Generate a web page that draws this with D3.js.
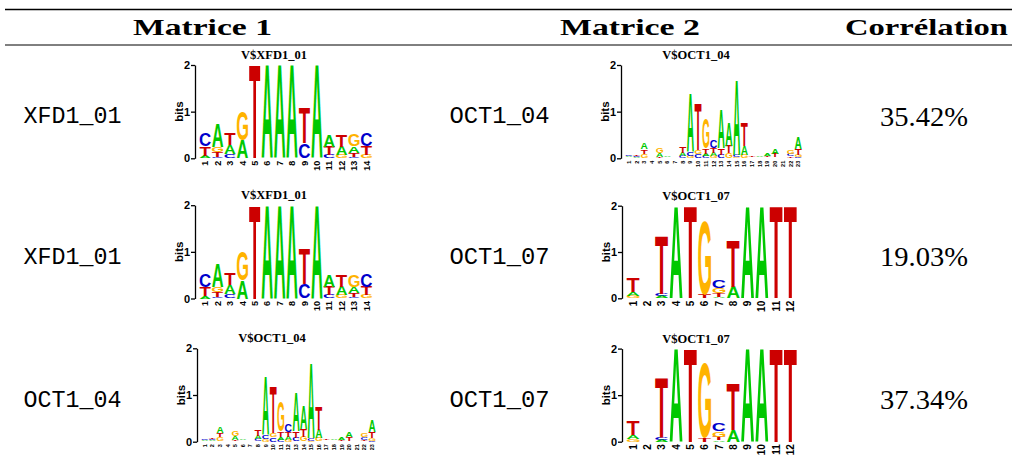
<!DOCTYPE html>
<html>
<head>
<meta charset="utf-8">
<script src="https://cdn.jsdelivr.net/npm/d3@7"></script>
<style>
  body { margin: 0; background: #fff; }
  svg { display: block; }
</style>
</head>
<body>
<script>
// ---- data ----
var headers = ["Matrice 1", "Matrice 2", "Corrélation"];
var rowLabels1 = ["XFD1_01", "XFD1_01", "OCT1_04"];
var rowLabels2 = ["OCT1_04", "OCT1_07", "OCT1_07"];
var correlations = ["35.42%", "19.03%", "37.34%"];
var bases = ["A", "C", "G", "T"];
var bitTicks = [0, 1, 2];

// information content per position, columns are [A, C, G, T] in bits
var xfd1_01 = [
  [0.05, 0.29, 0.00, 0.20],
  [0.50, 0.03, 0.11, 0.10],
  [0.19, 0.09, 0.01, 0.25],
  [0.39, 0.00, 0.61, 0.00],
  [0.00, 0.00, 0.00, 2.00],
  [2.00, 0.00, 0.00, 0.00],
  [2.00, 0.00, 0.00, 0.00],
  [2.00, 0.00, 0.00, 0.00],
  [0.00, 0.32, 0.00, 0.75],
  [2.00, 0.00, 0.00, 0.00],
  [0.25, 0.07, 0.00, 0.18],
  [0.18, 0.00, 0.07, 0.25],
  [0.14, 0.03, 0.25, 0.08],
  [0.00, 0.29, 0.07, 0.18]
];
var oct1_04 = [
  [0.02, 0.02, 0.01, 0.01],
  [0.02, 0.02, 0.01, 0.03],
  [0.14, 0.01, 0.09, 0.09],
  [0.01, 0.01, 0.01, 0.01],
  [0.08, 0.01, 0.10, 0.02],
  [0.02, 0.01, 0.01, 0.01],
  [0.01, 0.01, 0.01, 0.01],
  [0.07, 0.04, 0.01, 0.14],
  [1.25, 0.09, 0.05, 0.00],
  [0.00, 0.09, 0.09, 0.99],
  [0.05, 0.04, 0.64, 0.12],
  [0.07, 0.18, 0.04, 0.10],
  [0.84, 0.07, 0.01, 0.14],
  [0.50, 0.01, 0.10, 0.16],
  [1.62, 0.05, 0.02, 0.00],
  [0.18, 0.01, 0.07, 0.49],
  [0.01, 0.01, 0.01, 0.03],
  [0.02, 0.01, 0.01, 0.01],
  [0.06, 0.01, 0.01, 0.02],
  [0.10, 0.01, 0.01, 0.08],
  [0.01, 0.01, 0.01, 0.01],
  [0.01, 0.05, 0.08, 0.03],
  [0.25, 0.02, 0.05, 0.13]
];
var oct1_07 = [
  [0.09, 0.00, 0.05, 0.31],
  [0.01, 0.01, 0.01, 0.01],
  [0.04, 0.06, 0.00, 1.27],
  [2.00, 0.00, 0.00, 0.00],
  [0.00, 0.00, 0.00, 2.00],
  [0.00, 0.00, 1.60, 0.07],
  [0.03, 0.16, 0.11, 0.08],
  [0.25, 0.00, 0.00, 1.00],
  [2.00, 0.00, 0.00, 0.00],
  [2.00, 0.00, 0.00, 0.00],
  [0.00, 0.00, 0.00, 2.00],
  [0.00, 0.00, 0.00, 2.00]
];

// ---- layout ----
var width = 1012, height = 466;
var baseColor = { A: "#00c800", C: "#0000cc", G: "#ffb300", T: "#cc0000" };
var serif = "Liberation Serif";
var sans = "Liberation Sans";
var mono = "Liberation Mono";

var svg = d3.select("body").append("svg")
  .attr("width", width)
  .attr("height", height);

// table rules
svg.append("line").attr("x1", 5).attr("x2", width).attr("y1", 9.5).attr("y2", 9.5)
  .attr("stroke", "#000").attr("stroke-width", 1.6);
svg.append("line").attr("x1", 5).attr("x2", width).attr("y1", 45).attr("y2", 45)
  .attr("stroke", "#000").attr("stroke-width", 1);

// header
var headerPos = [[133, 139], [560, 140], [845, 163]];
svg.selectAll("text.header")
  .data(headers)
  .join("text")
  .attr("class", "header")
  .attr("x", function (d, i) { return headerPos[i][0]; })
  .attr("y", 35)
  .attr("textLength", function (d, i) { return headerPos[i][1]; })
  .attr("lengthAdjust", "spacingAndGlyphs")
  .attr("font-family", serif)
  .attr("font-weight", "bold")
  .attr("font-size", 22.5)
  .text(function (d) { return d; });

// row text
var labelBase = [123.3, 264, 406.6];
var corrBase = [125.5, 266.2, 408.8];

function rowText(labels, x, w) {
  svg.append("g").selectAll("text")
    .data(labels)
    .join("text")
    .attr("x", x)
    .attr("y", function (d, i) { return labelBase[i]; })
    .attr("textLength", w)
    .attr("lengthAdjust", "spacingAndGlyphs")
    .attr("font-family", mono)
    .attr("font-size", 24)
    .text(function (d) { return d; });
}
rowText(rowLabels1, 23.5, 98);
rowText(rowLabels2, 449.5, 100);

svg.append("g").selectAll("text")
  .data(correlations)
  .join("text")
  .attr("x", 880)
  .attr("y", function (d, i) { return corrBase[i]; })
  .attr("textLength", 88)
  .attr("lengthAdjust", "spacingAndGlyphs")
  .attr("font-family", serif)
  .attr("font-size", 28)
  .text(function (d) { return d; });

// glyph ink boxes, used to stretch letters into their stack cells
var ctx = document.createElement("canvas").getContext("2d");
ctx.font = "bold 100px 'Liberation Sans'";
var ink = {};
bases.forEach(function (b) {
  var m = ctx.measureText(b);
  ink[b] = { l: m.actualBoundingBoxLeft, r: m.actualBoundingBoxRight,
             a: m.actualBoundingBoxAscent, d: m.actualBoundingBoxDescent };
});

// one sequence logo
function drawLogo(p) {
  var n = p.matrix.length;
  var g = svg.append("g");

  var y = d3.scaleLinear().domain([0, 2]).range([p.y0, p.y2]);
  var x = d3.scaleBand()
    .domain(d3.range(1, n + 1))
    .range([p.colStart, p.colStart + n * p.colW])
    .paddingInner(0.1)
    .paddingOuter(0.05);

  // stacked letters, smallest at the bottom
  var letters = [];
  p.matrix.forEach(function (col, i) {
    var stack = bases.map(function (b, k) { return { base: b, h: col[k] }; })
      .filter(function (d) { return d.h > 0; })
      .sort(function (a, b) { return a.h - b.h; });
    var cum = 0;
    stack.forEach(function (d) {
      letters.push({ pos: i + 1, base: d.base, lo: cum, hi: cum + d.h });
      cum += d.h;
    });
  });

  g.selectAll("text.letter")
    .data(letters)
    .join("text")
    .attr("class", "letter")
    .attr("transform", function (d) {
      var k = ink[d.base];
      var w = x.bandwidth();
      var h = y(d.lo) - y(d.hi);
      var sx = w / (k.l + k.r);
      var sy = h / (k.a + k.d);
      return "translate(" + x(d.pos) + "," + y(d.hi) + ") scale(" + sx + "," + sy + ") translate(" + k.l + "," + k.a + ")";
    })
    .attr("fill", function (d) { return baseColor[d.base]; })
    .attr("font-family", sans)
    .attr("font-weight", "bold")
    .attr("font-size", 100)
    .text(function (d) { return d.base; });

  // y axis
  var axis = g.append("g")
    .attr("transform", "translate(" + p.axisX + ",0)")
    .call(d3.axisLeft(y).tickValues(bitTicks).tickSize(4).tickSizeOuter(0).tickPadding(1).tickFormat(d3.format("d")));
  axis.selectAll("path, line").attr("stroke", "#000").attr("stroke-width", 1.3);
  axis.selectAll("text")
    .attr("font-family", sans)
    .attr("font-weight", "bold")
    .attr("font-size", 11)
    .attr("fill", "#000");

  g.append("text")
    .attr("transform", "translate(" + (p.axisX - 12.5) + "," + ((p.y0 + p.y2) / 2) + ") rotate(-90)")
    .attr("text-anchor", "middle")
    .attr("font-family", sans)
    .attr("font-weight", "bold")
    .attr("font-size", 11.5)
    .text("bits");

  // position numbers
  var cap = 0.716 * p.numSize;
  g.selectAll("text.num")
    .data(d3.range(1, n + 1))
    .join("text")
    .attr("class", "num")
    .attr("transform", function (d) {
      return "translate(" + (x(d) + x.bandwidth() / 2 + cap / 2) + "," + (p.y0 + 2.5) + ") rotate(-90)";
    })
    .attr("text-anchor", "end")
    .attr("font-family", sans)
    .attr("font-weight", "bold")
    .attr("font-size", p.numSize)
    .text(function (d) { return d; });

  // title
  g.append("text")
    .attr("x", p.titleX)
    .attr("y", p.y2 - 6)
    .attr("text-anchor", "middle")
    .attr("font-family", serif)
    .attr("font-weight", "bold")
    .attr("font-size", 12.5)
    .text(p.title);
}

var panels = [
  { matrix: xfd1_01, title: "V$XFD1_01", axisX: 195, colStart: 199, colW: 12.4, y0: 158.3, y2: 65, titleX: 274, numSize: 9 },
  { matrix: oct1_04, title: "V$OCT1_04", axisX: 621, colStart: 625, colW: 7.7, y0: 158.3, y2: 65, titleX: 696, numSize: 5.5 },
  { matrix: xfd1_01, title: "V$XFD1_01", axisX: 195, colStart: 199, colW: 12.4, y0: 298.5, y2: 205.2, titleX: 274, numSize: 9 },
  { matrix: oct1_07, title: "V$OCT1_07", axisX: 622, colStart: 626, colW: 14.3, y0: 298.3, y2: 205.7, titleX: 696, numSize: 10 },
  { matrix: oct1_04, title: "V$OCT1_04", axisX: 197, colStart: 201, colW: 7.6, y0: 441.7, y2: 348.3, titleX: 272, numSize: 5.5 },
  { matrix: oct1_07, title: "V$OCT1_07", axisX: 622, colStart: 626, colW: 14.3, y0: 441.7, y2: 348.6, titleX: 696, numSize: 10 }
];
panels.forEach(drawLogo);
</script>
</body>
</html>
